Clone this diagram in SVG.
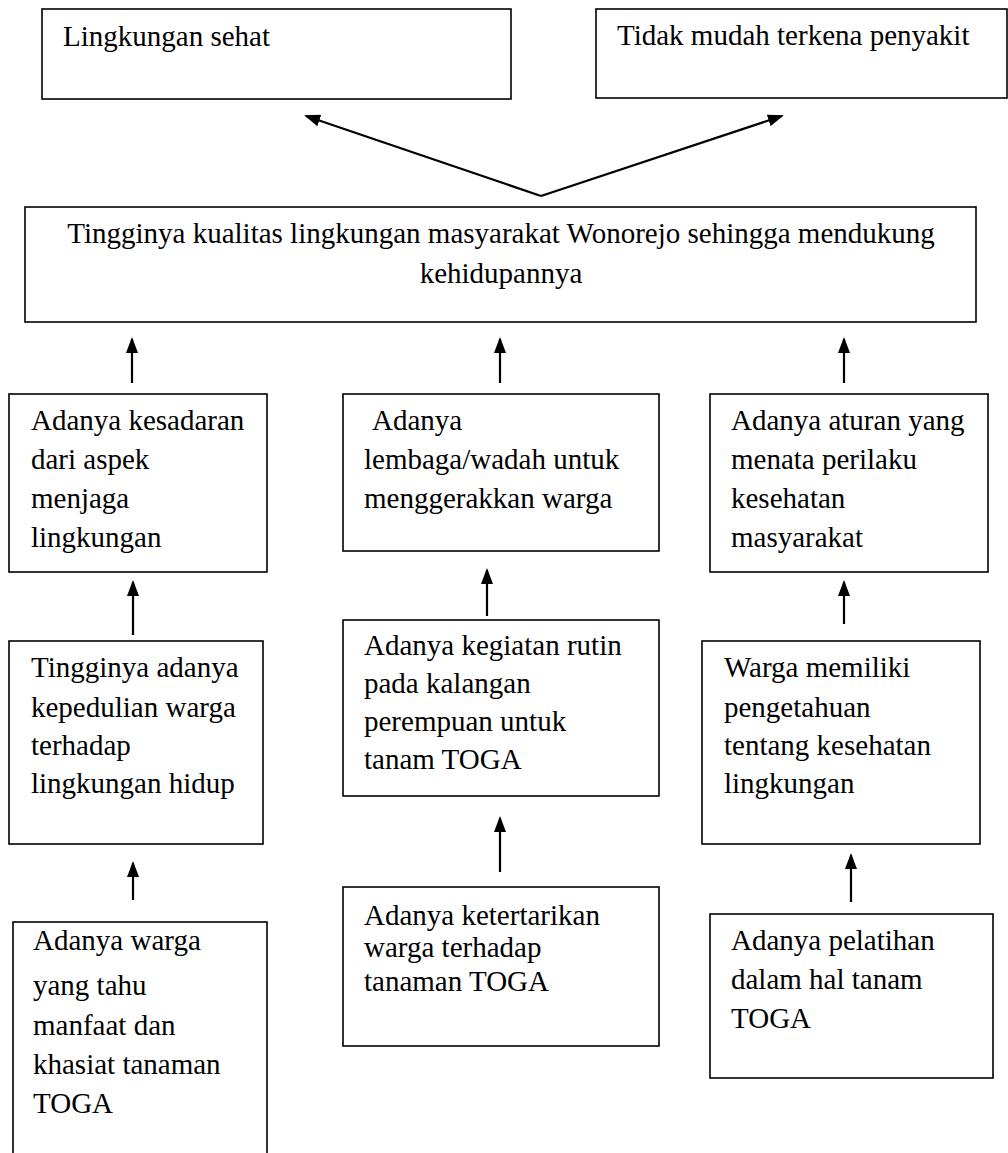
<svg xmlns="http://www.w3.org/2000/svg" width="1008" height="1153" viewBox="0 0 1008 1153">
<style>
.box{fill:#fff;stroke:#000;stroke-width:1.6}
.t{font-family:"Liberation Serif","Times New Roman",serif;font-size:29px;fill:#000}
.c{text-anchor:middle}
.a{stroke:#000;stroke-width:2.2;fill:none;marker-end:url(#ah)}
</style>
<defs>
<marker id="ah" markerUnits="userSpaceOnUse" markerWidth="16" markerHeight="12" refX="14" refY="6" orient="auto">
<path d="M0,0 L16,6 L0,12 z" fill="#000"/>
</marker>
</defs>
<rect width="1008" height="1153" fill="#fff"/>
<g id="n-lingkungan-sehat">
<rect class="box" x="42" y="9" width="469" height="90"/>
<text class="t" x="63" y="46">Lingkungan sehat</text>
</g>
<g id="n-tidak-mudah">
<rect class="box" x="596" y="9" width="411" height="89"/>
<text class="t" x="617" y="45">Tidak mudah terkena penyakit</text>
</g>
<g id="n-kualitas">
<rect class="box" x="25" y="207" width="951" height="115"/>
<text class="t c" x="501" y="243">Tingginya kualitas lingkungan masyarakat Wonorejo sehingga mendukung</text>
<text class="t c" x="501" y="283">kehidupannya</text>
</g>
<g id="n-kesadaran">
<rect class="box" x="9" y="394" width="258" height="178"/>
<text class="t" x="31" y="430">Adanya kesadaran</text>
<text class="t" x="31" y="469">dari aspek</text>
<text class="t" x="31" y="508">menjaga</text>
<text class="t" x="31" y="547">lingkungan</text>
</g>
<g id="n-lembaga">
<rect class="box" x="343" y="394" width="316" height="157"/>
<text class="t" x="372" y="430">Adanya</text>
<text class="t" x="364" y="469">lembaga/wadah untuk</text>
<text class="t" x="364" y="508">menggerakkan warga</text>
</g>
<g id="n-aturan">
<rect class="box" x="710" y="394" width="278" height="178"/>
<text class="t" x="731" y="430">Adanya aturan yang</text>
<text class="t" x="731" y="469">menata perilaku</text>
<text class="t" x="731" y="508">kesehatan</text>
<text class="t" x="731" y="547">masyarakat</text>
</g>
<g id="n-kepedulian">
<rect class="box" x="9" y="641" width="254" height="203"/>
<text class="t" x="31" y="677">Tingginya adanya</text>
<text class="t" x="31" y="717">kepedulian warga</text>
<text class="t" x="31" y="755">terhadap</text>
<text class="t" x="31" y="793">lingkungan hidup</text>
</g>
<g id="n-kegiatan">
<rect class="box" x="343" y="620" width="316" height="176"/>
<text class="t" x="364" y="655">Adanya kegiatan rutin</text>
<text class="t" x="364" y="693">pada kalangan</text>
<text class="t" x="364" y="731">perempuan untuk</text>
<text class="t" x="364" y="769">tanam TOGA</text>
</g>
<g id="n-pengetahuan">
<rect class="box" x="702" y="641" width="278" height="203"/>
<text class="t" x="724" y="677">Warga memiliki</text>
<text class="t" x="724" y="717">pengetahuan</text>
<text class="t" x="724" y="755">tentang kesehatan</text>
<text class="t" x="724" y="793">lingkungan</text>
</g>
<g id="n-warga-tahu">
<rect class="box" x="13" y="922" width="254" height="250"/>
<text class="t" x="33" y="950">Adanya warga</text>
<text class="t" x="33" y="995">yang tahu</text>
<text class="t" x="33" y="1035">manfaat dan</text>
<text class="t" x="33" y="1074">khasiat tanaman</text>
<text class="t" x="33" y="1113">TOGA</text>
</g>
<g id="n-ketertarikan">
<rect class="box" x="343" y="887" width="316" height="159"/>
<text class="t" x="364" y="925">Adanya ketertarikan</text>
<text class="t" x="364" y="957">warga terhadap</text>
<text class="t" x="364" y="991">tanaman TOGA</text>
</g>
<g id="n-pelatihan">
<rect class="box" x="710" y="914" width="283" height="164"/>
<text class="t" x="731" y="950">Adanya pelatihan</text>
<text class="t" x="731" y="989">dalam hal tanam</text>
<text class="t" x="731" y="1028">TOGA</text>
</g>
<g id="connectors">
<line class="a" x1="541" y1="196" x2="306" y2="116"/>
<line class="a" x1="541" y1="196" x2="782" y2="116"/>
<line class="a" x1="132" y1="383" x2="132" y2="339"/>
<line class="a" x1="500" y1="383" x2="500" y2="339"/>
<line class="a" x1="844" y1="383" x2="844" y2="339"/>
<line class="a" x1="133" y1="635" x2="133" y2="582"/>
<line class="a" x1="487" y1="616" x2="487" y2="570"/>
<line class="a" x1="844" y1="624" x2="844" y2="582"/>
<line class="a" x1="133" y1="900" x2="133" y2="863"/>
<line class="a" x1="500" y1="872" x2="500" y2="818"/>
<line class="a" x1="851" y1="902" x2="851" y2="855"/>
</g>
</svg>
